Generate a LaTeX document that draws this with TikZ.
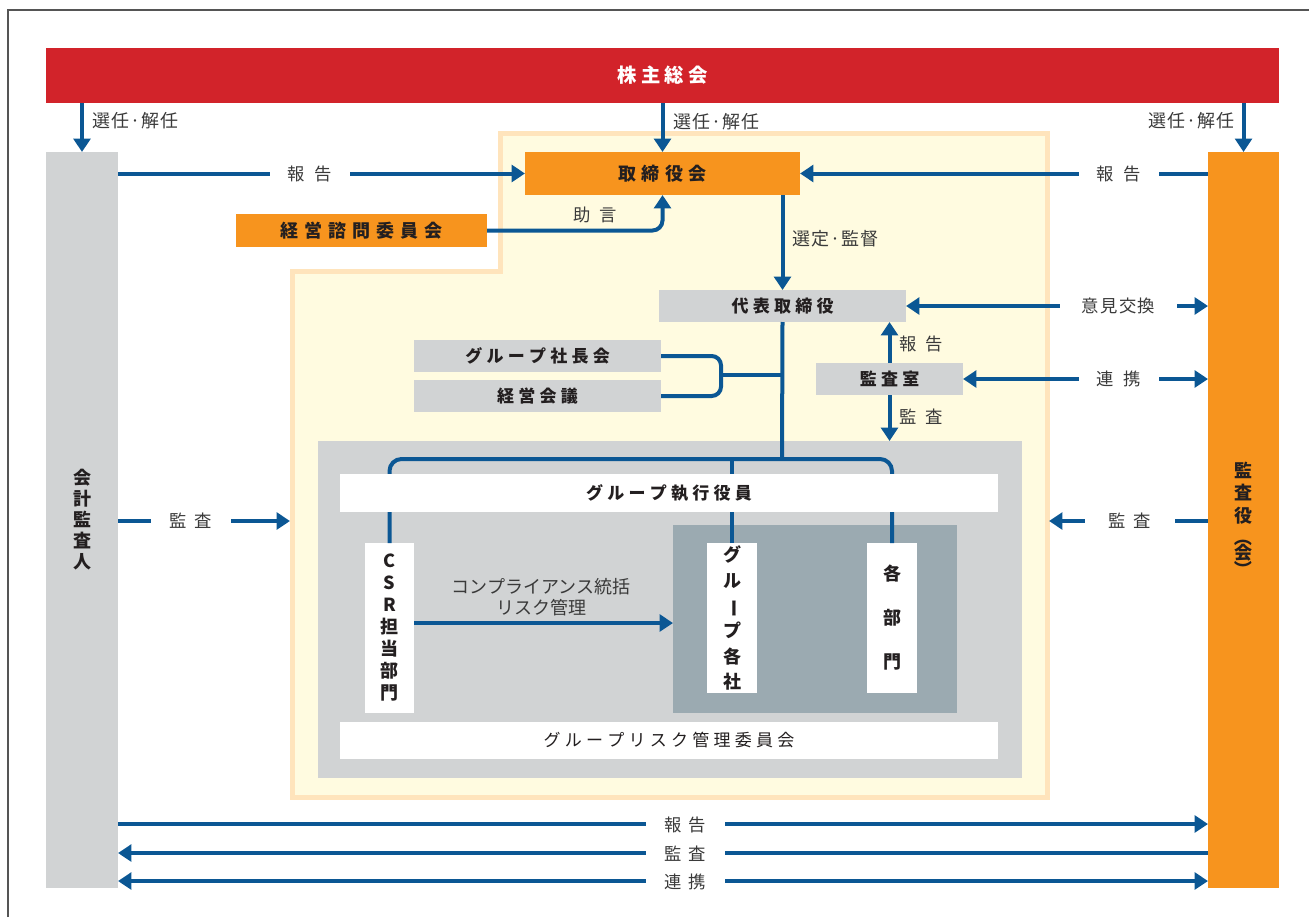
\documentclass[tikz,border=0pt]{standalone}
\usepackage{fontspec}
\setmainfont{Noto Sans CJK JP}
\usepackage{graphicx}
\usetikzlibrary{arrows.meta}

\definecolor{cRed}{HTML}{D2232A}
\definecolor{cOrange}{HTML}{F7941E}
\definecolor{cGray}{HTML}{D1D3D4}
\definecolor{cSlate}{HTML}{9BAAB1}
\definecolor{cYellow}{HTML}{FFFBE0}
\definecolor{cYellowB}{HTML}{FFE4BC}
\definecolor{cBlue}{HTML}{0B5794}
\definecolor{cText}{HTML}{231F20}
\definecolor{cLabel}{HTML}{3A3A3A}
\definecolor{cFrame}{HTML}{555555}

\makeatletter
\newcommand\spaced[2]{\def\sp@gap{#1}\sp@first#2\relax}
\def\sp@first#1{\ifx#1\relax\else#1\expandafter\sp@rest\fi}
\def\sp@rest#1{\ifx#1\relax\else\kern\sp@gap\relax#1\expandafter\sp@rest\fi}
\makeatother
\newcommand\vparL{\rotatebox[origin=c]{-90}{（}}
\newcommand\vparR{\rotatebox[origin=c]{-90}{）}}

\tikzset{
  rect/.style n args={4}{at={({(#1+#3)/2},{(#2+#4)/2})},
    minimum width={(#3-#1)*0.75pt}, minimum height={(#4-#2)*0.75pt}},
  box/.style={inner sep=0pt, outer sep=0pt, text=cText,
    font=\bfseries\fontsize{12.75}{15}\selectfont},
  obox/.style={box, fill=cOrange, font=\bfseries\fontsize{13.5}{16}\selectfont},
  gbox/.style={box, fill=cGray},
  wbox/.style={box, fill=white},
  region/.style={inner sep=0pt, outer sep=0pt},
  conn/.style={draw=cBlue, line width=3pt},
  arr/.style={conn, -{Triangle[length=10pt,width=12.5pt]}},
  darr/.style={conn, {Triangle[length=10pt,width=12.5pt]}-{Triangle[length=10pt,width=12.5pt]}},
  lab/.style={inner sep=0pt, text=cLabel, font=\fontsize{13}{15}\selectfont},
  gaplab/.style={lab, fill=white},
}

\begin{document}
\begin{tikzpicture}[x=0.75pt,y=-0.75pt]
\useasboundingbox (0,0) rectangle (1309,917);
\draw[draw=cFrame, line width=1.1pt] (8,917) -- (8,10) -- (1309,10);

% yellow executive area
\filldraw[fill=cYellow, draw=cYellowB, line width=3.75pt]
  (292.5,271.5) -- (500.5,271.5) -- (500.5,133.5) -- (1047,133.5) -- (1047,797.5) -- (292.5,797.5) -- cycle;

% top-level boxes
\node[region, fill=cRed, text=white, font=\bfseries\fontsize{14.5}{17}\selectfont, rect={46}{48}{1279}{103}] (kab) {\spaced{0.22em}{株主総会}};
\node[gbox, rect={46}{152}{118}{888}, align=center, font=\bfseries\fontsize{13.5}{15.75}\selectfont] (kaikei) {会\\計\\監\\査\\人};
\node[obox, rect={1208}{152}{1279}{888}, align=center, font=\bfseries\fontsize{13.5}{17}\selectfont] (kansa) {監\\査\\役\\[-1pt]\vparL\\[-5pt]会\\[-5pt]\vparR};
\node[obox, rect={525}{152}{800}{195}] (tori) {\spaced{0.28em}{取締役会}};
\node[obox, rect={236}{214}{487}{247}] (shimon) {\spaced{0.33em}{経営諮問委員会}};
\node[gbox, rect={659}{290}{906}{322}] (daihyo) {\spaced{0.25em}{代表取締役}};
\node[gbox, rect={816}{363}{963}{395}] (kansashitsu) {\spaced{0.25em}{監査室}};
\node[gbox, rect={414}{340}{661}{372}] (shachokai) {\spaced{0.25em}{グループ社長会}};
\node[gbox, rect={414}{380}{661}{412}] (keiei) {\spaced{0.25em}{経営会議}};

% group area
\node[region, fill=cGray, rect={318}{441}{1022}{778}] (grp) {};
\node[region, fill=cSlate, rect={673}{525}{957}{713}] (slate) {};
\node[wbox, rect={365}{543}{414}{713}, align=center, font=\bfseries\fontsize{13.5}{16.5}\selectfont] (csr) {C\\S\\R\\担\\当\\部\\門};
\node[wbox, rect={707}{543}{757}{693}, align=center, font=\bfseries\fontsize{13.5}{19}\selectfont] (kakusha) {グ\\ル\\\rotatebox[origin=c]{-90}{ー}\\プ\\各\\社};
\node[wbox, rect={867}{543}{917}{693}, align=center, font=\bfseries\fontsize{13.5}{33}\selectfont] (bumon) {各\\部\\門};

% free ends
\coordinate (bar) at (782,459);
\coordinate (brk) at (721,375);
\coordinate (csrY) at (0,623);
\coordinate (ylwL) at (290,521);
\coordinate (ylwR) at (1049,521);
\coordinate (bot1) at (0,824);
\coordinate (bot2) at (0,853);
\coordinate (bot3) at (0,881);

% tree lines
\draw[conn, rounded corners=7pt] (shachokai.east) -| (brk) |- (keiei.east);
\draw[conn] (brk) -- (brk -| daihyo.south);
\draw[conn] (daihyo.south) -- (bar);
\draw[conn, rounded corners=9pt] (csr.north) |- (bar -| bumon.north) -- (bumon.north);
\draw[conn] (kakusha.north) -- (kakusha.north |- bar);

\node[wbox, rect={340}{474}{998}{512}] (exec) {\spaced{0.25em}{グループ執行役員}};
\node[wbox, rect={340}{722}{998}{759}, font=\fontsize{12.75}{15}\selectfont] (risk) {\spaced{0.25em}{グループリスク管理委員会}};

% election arrows
\draw[arr] (kaikei.north |- kab.south) -- (kaikei.north);
\draw[arr] (tori.north |- kab.south) -- (tori.north);
\draw[arr] (kansa.north |- kab.south) -- (kansa.north);
\node[lab, anchor=west, font=\fontsize{13.5}{15}\selectfont] (lbSen1) at (92,121) {\spaced{0.06em}{選任·解任}};
\node[lab, anchor=west, font=\fontsize{13.5}{15}\selectfont] (lbSen2) at (673,122) {\spaced{0.06em}{選任·解任}};
\node[lab, anchor=east, font=\fontsize{13.5}{15}\selectfont] (lbSen3) at (1235,121) {\spaced{0.06em}{選任·解任}};

% reports to board
\draw[arr] (tori.west -| kaikei.east) -- (tori.west);
\node[gaplab, rect={270}{160}{350}{188}] (lbRep1) {\spaced{0.55em}{報告}};
\draw[arr] (tori.east -| kansa.west) -- (tori.east);
\node[gaplab, rect={1079}{160}{1159}{188}] (lbRep2) {\spaced{0.55em}{報告}};

% advice
\draw[arr, rounded corners=7.5pt] (shimon.east) -- (shimon.east -| tori.south) -- (tori.south);
\node[lab] (lbAdv) at (595,215) {\spaced{0.5em}{助言}};

% selection / supervision
\draw[arr] (daihyo.north |- tori.south) -- (daihyo.north);
\node[lab, anchor=west, font=\fontsize{13.5}{15}\selectfont] (lbSel) at (792,239) {\spaced{0.06em}{選定·監督}};

% opinion exchange
\draw[darr] (daihyo.east) -- (daihyo.east -| kansa.west);
\node[gaplab, rect={1060}{294}{1177}{318}] (lbIken) {\spaced{0.08em}{意見交換}};

% audit office
\draw[arr] (kansashitsu.north) -- (kansashitsu.north |- daihyo.south);
\node[lab, anchor=west] (lbRep3) at (899,344) {\spaced{0.5em}{報告}};
\draw[arr] (kansashitsu.south) -- (kansashitsu.south |- grp.north);
\node[lab, anchor=west] (lbAud1) at (899,417) {\spaced{0.5em}{監査}};
\draw[darr] (kansashitsu.east) -- (kansashitsu.east -| kansa.west);
\node[gaplab, rect={1079}{366}{1159}{392}] (lbRen1) {\spaced{0.55em}{連携}};

% audits into area
\draw[arr] (ylwL -| kaikei.east) -- (ylwL);
\node[gaplab, rect={151}{508}{231}{534}] (lbAud2) {\spaced{0.45em}{監査}};
\draw[arr] (ylwR -| kansa.west) -- (ylwR);
\node[gaplab, rect={1085}{508}{1175}{534}] (lbAud3) {\spaced{0.45em}{監査}};

% CSR arrow
\draw[arr] (csrY -| csr.east) -- (csrY -| slate.west);
\node[lab, align=center, font=\fontsize{13.5}{15.5}\selectfont] (lbComp) at (541,597) {コンプライアンス統括\\リスク管理};

% bottom arrows
\draw[arr] (bot1 -| kaikei.east) -- (bot1 -| kansa.west);
\node[gaplab, rect={646}{812}{725}{838}] (lbRep4) {\spaced{0.4em}{報告}};
\draw[arr] (bot2 -| kansa.west) -- (bot2 -| kaikei.east);
\node[gaplab, rect={646}{841}{725}{866}] (lbAud4) {\spaced{0.4em}{監査}};
\draw[darr] (bot3 -| kaikei.east) -- (bot3 -| kansa.west);
\node[gaplab, rect={646}{869}{725}{894}] (lbRen2) {\spaced{0.4em}{連携}};
\end{tikzpicture}
\end{document}
